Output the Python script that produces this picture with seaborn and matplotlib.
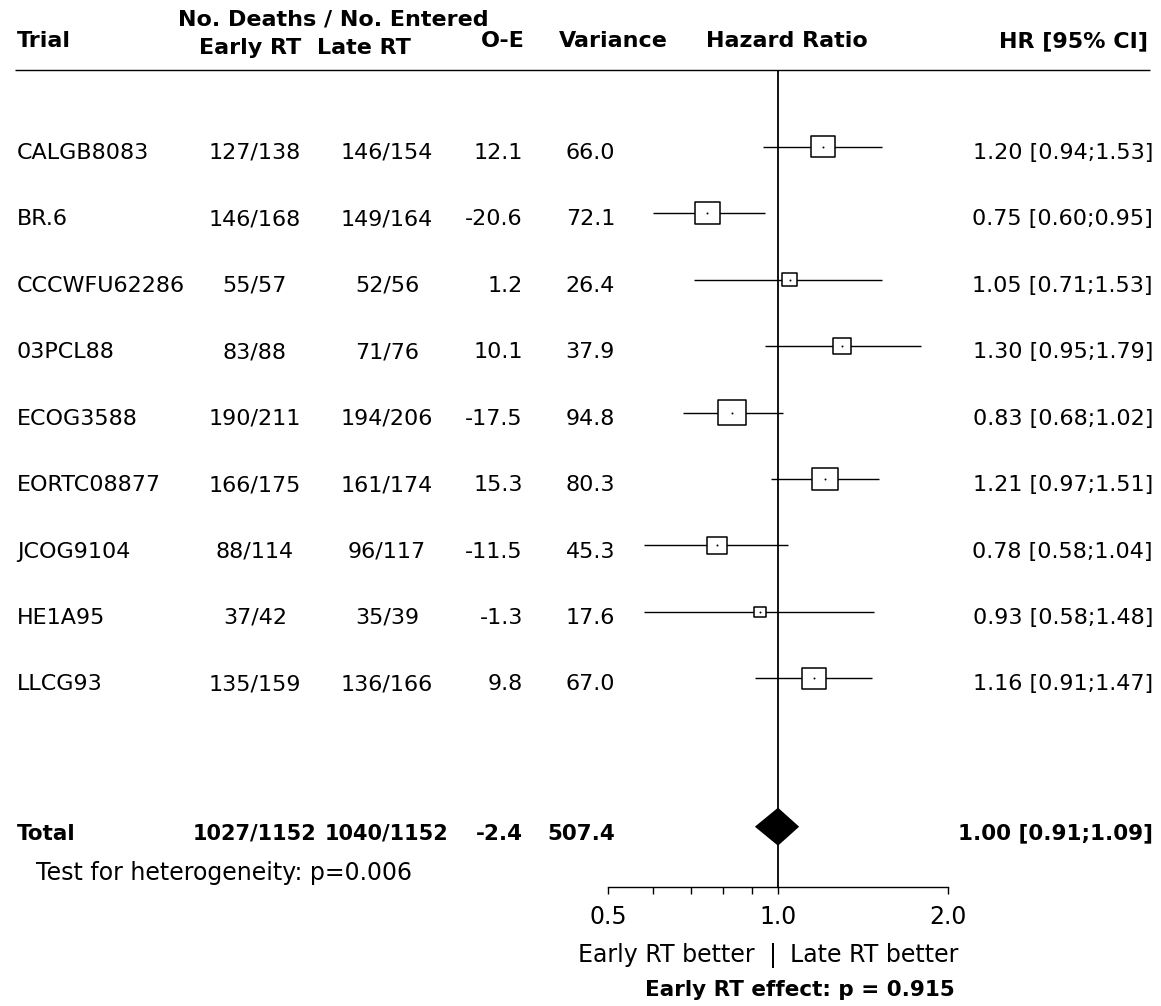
import numpy as np
import pandas as pd
import matplotlib
matplotlib.use("Agg")
import matplotlib.pyplot as plt
from matplotlib.path import Path
from matplotlib.ticker import NullFormatter
import seaborn as sns

# ---------------- data ----------------
trials = ["CALGB8083", "BR.6", "CCCWFU62286", "03PCL88", "ECOG3588",
          "EORTC08877", "JCOG9104", "HE1A95", "LLCG93"]
early_rt = ["127/138", "146/168", "55/57", "83/88", "190/211",
            "166/175", "88/114", "37/42", "135/159"]
late_rt = ["146/154", "149/164", "52/56", "71/76", "194/206",
           "161/174", "96/117", "35/39", "136/166"]
o_minus_e = [12.1, -20.6, 1.2, 10.1, -17.5, 15.3, -11.5, -1.3, 9.8]
variance = [66.0, 72.1, 26.4, 37.9, 94.8, 80.3, 45.3, 17.6, 67.0]
hazard_ratio = [1.20, 0.75, 1.05, 1.30, 0.83, 1.21, 0.78, 0.93, 1.16]
ci_low = [0.94, 0.60, 0.71, 0.95, 0.68, 0.97, 0.58, 0.58, 0.91]
ci_high = [1.53, 0.95, 1.53, 1.79, 1.02, 1.51, 1.04, 1.48, 1.47]

total_label = "Total"
total_early = "1027/1152"
total_late = "1040/1152"
total_o_minus_e = -2.4
total_variance = 507.4
total_hr = 1.00
total_low = 0.91
total_high = 1.09

heterogeneity_p = "0.006"
effect_p = "0.915"
tick_values = [0.5, 1.0, 2.0]
tick_labels = ["0.5", "1.0", "2.0"]
minor_tick_values = [0.6, 0.7, 0.8, 0.9]

# ---------------- style ----------------
sns.set_theme(style="white")
plt.rcParams['font.family'] = ['DejaVu Sans']

W, H = 1161, 1006
fig = plt.figure(figsize=(W / 100, H / 100), dpi=100)

# text layer in pixel coordinates
tax = fig.add_axes([0, 0, 1, 1])
tax.set_xlim(0, W)
tax.set_ylim(H, 0)
tax.axis('off')

# layout (pixels)
X_LO, X_HI, Y_TOP, Y_AXIS = 608, 948, 70, 887
ROW0, DY = 146.7, 66.45
n = len(trials)
rows_y = ROW0 + DY * np.arange(n)
total_y = 826.7


def txt(x, yc, s, ha='left', size=16, bold=False):
    em = size * 100 / 72
    tax.text(x, yc + 0.365 * em, s, ha=ha, va='baseline', fontsize=size,
             fontweight='bold' if bold else 'normal', color='black')


# header
HS = 16
txt(17, 39, "Trial", bold=True, size=HS)
txt(333, 17, "No. Deaths / No. Entered", ha='center', bold=True, size=HS)
txt(250, 46, "Early RT", ha='center', bold=True, size=HS)
txt(364, 46, "Late RT", ha='center', bold=True, size=HS)
txt(503, 39, "O-E", ha='center', bold=True, size=HS)
txt(613, 39, "Variance", ha='center', bold=True, size=HS)
txt(787, 39, "Hazard Ratio", ha='center', bold=True, size=HS)
txt(1148, 39, "HR [95% CI]", ha='right', bold=True, size=HS)
tax.hlines(Y_TOP, 15, 1150, color='black', lw=1.0)

# rows
for i in range(n):
    yc = rows_y[i] + 4
    txt(17, yc, trials[i])
    txt(255, yc, early_rt[i], ha='center')
    txt(387, yc, late_rt[i], ha='center')
    txt(523, yc, f"{o_minus_e[i]:.1f}", ha='right')
    txt(615, yc, f"{variance[i]:.1f}", ha='right')
    txt(1153, yc, f"{hazard_ratio[i]:.2f} [{ci_low[i]:.2f};{ci_high[i]:.2f}]", ha='right')

yc = total_y + 5
txt(17, yc, total_label, bold=True, size=15.5)
txt(255, yc, total_early, ha='center', bold=True, size=15)
txt(387, yc, total_late, ha='center', bold=True, size=15)
txt(523, yc, f"{total_o_minus_e:.1f}", ha='right', bold=True, size=15.5)
txt(615, yc, f"{total_variance:.1f}", ha='right', bold=True, size=15.5)
txt(1153, yc, f"{total_hr:.2f} [{total_low:.2f};{total_high:.2f}]", ha='right', bold=True, size=15.5)

# bottom texts
txt(36, 871, f"Test for heterogeneity: p={heterogeneity_p}", size=17)
txt(755, 953, "Early RT better", ha='right', size=17)
txt(773, 953, "|", ha='center', size=17)
txt(790, 953, "Late RT better", ha='left', size=17)
txt(800, 988, f"Early RT effect: p = {effect_p}", ha='center', bold=True, size=15.5)

# ---------------- forest axes ----------------
ax = fig.add_axes([X_LO / W, 1 - Y_AXIS / H, (X_HI - X_LO) / W, (Y_AXIS - Y_TOP) / H])
ax.set_xscale('log', base=2)
ax.set_xlim(tick_values[0], tick_values[-1])
ax.set_ylim(Y_AXIS, Y_TOP)
ax.patch.set_alpha(0)

ax.axvline(1.0, color='black', lw=1.3, zorder=1)
ax.hlines(rows_y, ci_low, ci_high, color='black', lw=1.0, zorder=2)

df = pd.DataFrame({"hr": hazard_ratio, "y": rows_y, "var": variance})
rect = Path([(-0.58, -0.5), (0.58, -0.5), (0.58, 0.5), (-0.58, 0.5), (-0.58, -0.5)],
            [Path.MOVETO, Path.LINETO, Path.LINETO, Path.LINETO, Path.CLOSEPOLY])
K = 4.4
sns.scatterplot(data=df, x="hr", y="y", size="var", sizes=(0, 100 * K), size_norm=(0, 100),
                marker=rect, facecolor='white', edgecolor='black', linewidth=1.1,
                legend=False, ax=ax, zorder=3, clip_on=False)
sns.scatterplot(data=df, x="hr", y="y", s=2, color='black', linewidth=0,
                legend=False, ax=ax, zorder=4, clip_on=False)

half_h = 19
ax.fill([total_low, total_hr, total_high, total_hr],
        [total_y, total_y - half_h, total_y, total_y + half_h],
        color='black', zorder=3, lw=0)

sns.despine(ax=ax, left=True, top=True, right=True)
ax.spines['bottom'].set_color('black')
ax.spines['bottom'].set_linewidth(1.0)
ax.spines['bottom'].set_bounds(tick_values[0], tick_values[-1])
ax.set_yticks([])
ax.set_xticks(tick_values)
ax.set_xticklabels(tick_labels, fontsize=17)
ax.set_xticks(minor_tick_values, minor=True)
ax.xaxis.set_minor_formatter(NullFormatter())
ax.tick_params(axis='x', which='both', bottom=True, direction='out', length=5,
               width=1.0, color='black', labelcolor='black', pad=8)
ax.set_xlabel("")
ax.set_ylabel("")

fig.savefig("out.png", dpi=100, facecolor='white')
